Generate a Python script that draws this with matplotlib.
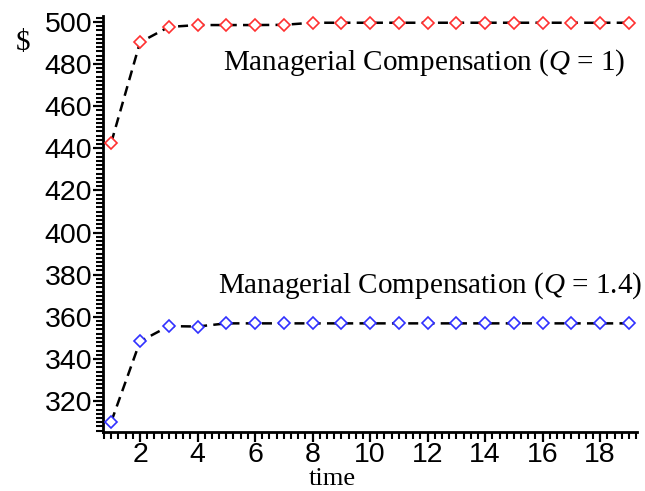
import matplotlib.pyplot as plt
from matplotlib.ticker import MultipleLocator

plt.rcParams["mathtext.fontset"] = "custom"
plt.rcParams["mathtext.it"] = "Liberation Serif:italic"
plt.rcParams["mathtext.rm"] = "Liberation Serif"

# values
time = list(range(1, 20))
comp_q1 = [442.7, 490.3, 497.6, 498.5, 498.5, 498.5, 498.6, 499.6, 499.6, 499.6,
           499.6, 499.6, 499.6, 499.6, 499.6, 499.6, 499.6, 499.6, 499.6]
comp_q14 = [310.2, 348.3, 355.6, 355.4, 356.9, 356.9, 356.9, 356.9, 356.9, 356.9,
            356.9, 356.9, 356.9, 356.9, 356.9, 356.9, 356.9, 356.9, 356.9]
yticks = [320, 340, 360, 380, 400, 420, 440, 460, 480, 500]
xticks = [2, 4, 6, 8, 10, 12, 14, 16, 18]

serif = "Liberation Serif"
sans = "Liberation Sans"

fig = plt.figure(figsize=(6.45, 4.91), dpi=100)
ax = fig.add_axes([0.160, 0.12, 0.828, 0.847])

# dashed connecting lines, then open diamond markers
ax.plot(time, comp_q1, color="black", ls=(0, (4, 2.5)), lw=1.8, zorder=2)
ax.plot(time, comp_q14, color="black", ls=(0, (4, 2.5)), lw=1.8, zorder=2)
ax.plot(time, comp_q1, ls="none", marker="D", ms=6, mfc="white", mec="#ff3030",
        mew=1.2, zorder=3, clip_on=False)
ax.plot(time, comp_q14, ls="none", marker="D", ms=6, mfc="white", mec="#3030ff",
        mew=1.2, zorder=3, clip_on=False)

ax.set_xlim(0.72, 19.29)
ax.set_ylim(305.3, 502.7)

for s in ["top", "right"]:
    ax.spines[s].set_visible(False)
for s in ["left", "bottom"]:
    ax.spines[s].set_linewidth(2)

ax.set_xticks(xticks)
ax.set_yticks(yticks)
ax.xaxis.set_minor_locator(MultipleLocator(0.25))
ax.yaxis.set_minor_locator(MultipleLocator(2))
ax.tick_params(which="major", length=7, width=1.6, direction="out", pad=1)
ax.tick_params(axis="x", which="major", pad=0)
ax.tick_params(which="minor", length=5, width=1.5, direction="out")
for lab in ax.get_xticklabels() + ax.get_yticklabels():
    lab.set_fontfamily(sans)
    lab.set_fontsize(20.5)

ax.text(18.87, 477.5, "Managerial Compensation ($\\mathit{Q}$ = 1)", ha="right",
        va="baseline", fontsize=21, family=serif)
ax.text(19.47, 371.7, "Managerial Compensation ($\\mathit{Q}$ = 1.4)", ha="right",
        va="baseline", fontsize=21, family=serif, clip_on=False)

fig.text(16 / 645, 1 - 50 / 491, "$", fontsize=21, family=serif, ha="left", va="baseline")
fig.text(332 / 645, 1 - 485 / 491, "time", fontsize=19, family=serif, ha="center",
         va="baseline")

fig.savefig("out.png", dpi=100)
